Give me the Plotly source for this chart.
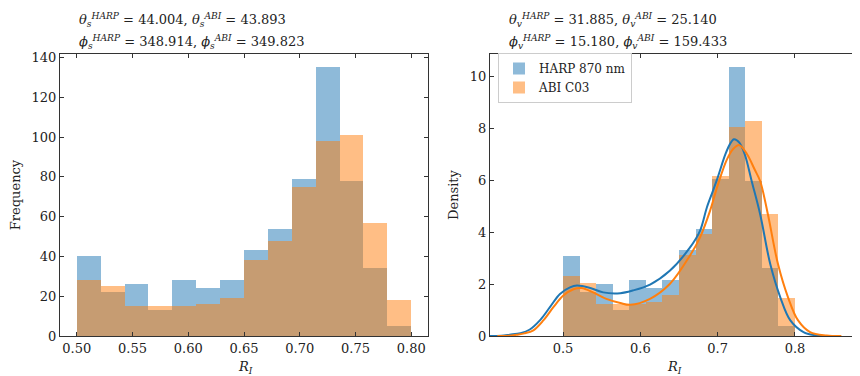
import numpy as np
import plotly.graph_objects as go
from plotly.subplots import make_subplots

# ---- data ----
bin_start, bin_end, n_bins = 0.50, 0.80, 14
harp_counts = [40, 22, 26, 13, 28, 24, 28, 43, 54, 79, 135, 78, 34, 5]
abi_counts = [28, 25, 15, 15, 15, 16, 19, 38, 48, 75, 98, 101, 57, 18]

harp_kde_x = [0.405, 0.420, 0.431, 0.445, 0.457, 0.470, 0.483, 0.496, 0.509, 0.518, 0.535, 0.552,
              0.574, 0.590, 0.6125, 0.638, 0.664, 0.677, 0.686, 0.694, 0.700, 0.710, 0.716, 0.721,
              0.728, 0.735, 0.744, 0.755, 0.768, 0.781, 0.794, 0.811, 0.828, 0.845]
harp_kde_y = [0.0, 0.01, 0.05, 0.11, 0.25, 0.6, 1.11, 1.62, 1.87, 1.94, 1.85, 1.68,
              1.65, 1.75, 1.98, 2.51, 3.4, 4.04, 4.95, 5.6, 6.1, 7.0, 7.4, 7.58,
              7.45, 7.0, 5.96, 4.68, 2.77, 1.49, 0.6, 0.15, 0.02, 0.0]
abi_kde_x = [0.415, 0.430, 0.440, 0.450, 0.4616, 0.4745, 0.4875, 0.500, 0.5134, 0.524, 0.539, 0.556,
             0.574, 0.587, 0.6125, 0.638, 0.664, 0.677, 0.690, 0.700, 0.712, 0.720, 0.728, 0.738,
             0.748, 0.755, 0.765, 0.778, 0.791, 0.804, 0.8195, 0.841, 0.860]
abi_kde_y = [0.0, 0.01, 0.05, 0.1, 0.22, 0.6, 1.11, 1.55, 1.8, 1.85, 1.68, 1.43,
             1.27, 1.2, 1.43, 2.0, 3.09, 3.79, 4.81, 5.8, 6.8, 7.2, 7.35, 7.0,
             6.4, 5.96, 4.68, 2.77, 1.49, 0.6, 0.15, 0.02, 0.0]

left_title = ["<i>θ</i><sub><i>s</i></sub><sup><i>HARP</i></sup> = 44.004, <i>θ</i><sub><i>s</i></sub><sup><i>ABI</i></sup> = 43.893",
              "<i>ϕ</i><sub><i>s</i></sub><sup><i>HARP</i></sup> = 348.914, <i>ϕ</i><sub><i>s</i></sub><sup><i>ABI</i></sup> = 349.823"]
right_title = ["<i>θ</i><sub><i>v</i></sub><sup><i>HARP</i></sup> = 31.885, <i>θ</i><sub><i>v</i></sub><sup><i>ABI</i></sup> = 25.140",
               "<i>ϕ</i><sub><i>v</i></sub><sup><i>HARP</i></sup> = 15.180, <i>ϕ</i><sub><i>v</i></sub><sup><i>ABI</i></sup> = 159.433"]

labels = ["HARP 870 nm", "ABI C03"]
BLUE = "#1f77b4"
ORANGE = "#ff7f0e"
FONT = "DejaVu Serif"

bin_size = (bin_end - bin_start) / n_bins
centers = np.linspace(bin_start + bin_size / 2, bin_end - bin_size / 2, n_bins)

fig = make_subplots(rows=1, cols=2, horizontal_spacing=0.0)

xb = dict(start=bin_start, end=bin_end, size=bin_size)
# left panel: frequency
fig.add_trace(go.Histogram(x=centers, y=harp_counts, histfunc="sum", xbins=xb, marker_color=BLUE,
                           opacity=0.5, showlegend=False, name=labels[0]), row=1, col=1)
fig.add_trace(go.Histogram(x=centers, y=abi_counts, histfunc="sum", xbins=xb, marker_color=ORANGE,
                           opacity=0.5, showlegend=False, name=labels[1]), row=1, col=1)
# right panel: density
fig.add_trace(go.Histogram(x=centers, y=harp_counts, histfunc="sum", histnorm="probability density",
                           xbins=xb, marker_color=BLUE, opacity=0.5, name=labels[0]), row=1, col=2)
fig.add_trace(go.Histogram(x=centers, y=abi_counts, histfunc="sum", histnorm="probability density",
                           xbins=xb, marker_color=ORANGE, opacity=0.5, name=labels[1]), row=1, col=2)
fig.add_trace(go.Scatter(x=harp_kde_x, y=harp_kde_y, mode="lines", line=dict(color=BLUE, width=2, shape="spline"),
                         showlegend=False), row=1, col=2)
fig.add_trace(go.Scatter(x=abi_kde_x, y=abi_kde_y, mode="lines", line=dict(color=ORANGE, width=2, shape="spline"),
                         showlegend=False), row=1, col=2)

# the page body adds an 8px offset; the figure is sized to fill the rest of the 860x376 window
OFF = 8
W, H = 860 - OFF, 376 - OFF
ml, mr, mt, mb = 60 - OFF, 2, 54 - OFF, 40
pw = W - ml - mr
ph = H - mt - mb


def px_x(x):  # window pixel -> paper fraction
    return (x - OFF - ml) / pw


def px_y(y):
    return (H - mb - (y - OFF)) / ph


axis_common = dict(showline=True, linecolor="#333", linewidth=1, mirror="ticks", ticks="inside",
                   ticklen=4, tickcolor="#333", showgrid=False, zeroline=False, automargin=False,
                   tickfont=dict(family=FONT, size=13, color="#222"))

fig.update_xaxes(**axis_common)
fig.update_yaxes(**axis_common)

fig.update_layout(
    width=W, height=H, margin=dict(l=ml, r=mr, t=mt, b=mb, autoexpand=False),
    paper_bgcolor="white", plot_bgcolor="white",
    barmode="overlay", bargap=0,
    font=dict(family=FONT, size=13, color="#222"),
    xaxis=dict(domain=[px_x(60), px_x(428)], range=[0.485, 0.815],
               tickvals=[0.5, 0.55, 0.6, 0.65, 0.7, 0.75, 0.8], tickformat=".2f"),
    yaxis=dict(range=[0, 141.75], tickvals=[0, 20, 40, 60, 80, 100, 120, 140],
               title=dict(text="Frequency", font=dict(family=FONT, size=13), standoff=12)),
    xaxis2=dict(domain=[px_x(490), px_x(858)], range=[0.4055, 0.8815], tickvals=[0.5, 0.6, 0.7, 0.8]),
    yaxis2=dict(range=[0, 10.86], tickvals=[0, 2, 4, 6, 8, 10],
                title=dict(text="Density", font=dict(family=FONT, size=13), standoff=8)),
    legend=dict(x=px_x(498), y=px_y(53), xanchor="left", yanchor="top",
                bgcolor="white", bordercolor="#ccc", borderwidth=1,
                font=dict(family=FONT, size=12), tracegroupgap=2),
)

# x-axis titles
for xcen in ((77 + 413) / 2, (490 + 858) / 2):
    fig.add_annotation(text="<i>R<sub>I</sub></i>", xref="paper", yref="paper",
                       x=px_x(xcen), y=px_y(357), xanchor="center", yanchor="top",
                       showarrow=False, font=dict(family=FONT, size=13, color="#222"))

for txt, xpx in ((left_title, 77), (right_title, 507)):
    for i, line in enumerate(txt):
        fig.add_annotation(text=line, xref="paper", yref="paper",
                           x=px_x(xpx), y=px_y(8.5 + 22 * i),
                           xanchor="left", yanchor="top", showarrow=False,
                           font=dict(family=FONT, size=13, color="#222"))

fig.write_html("out.html")
